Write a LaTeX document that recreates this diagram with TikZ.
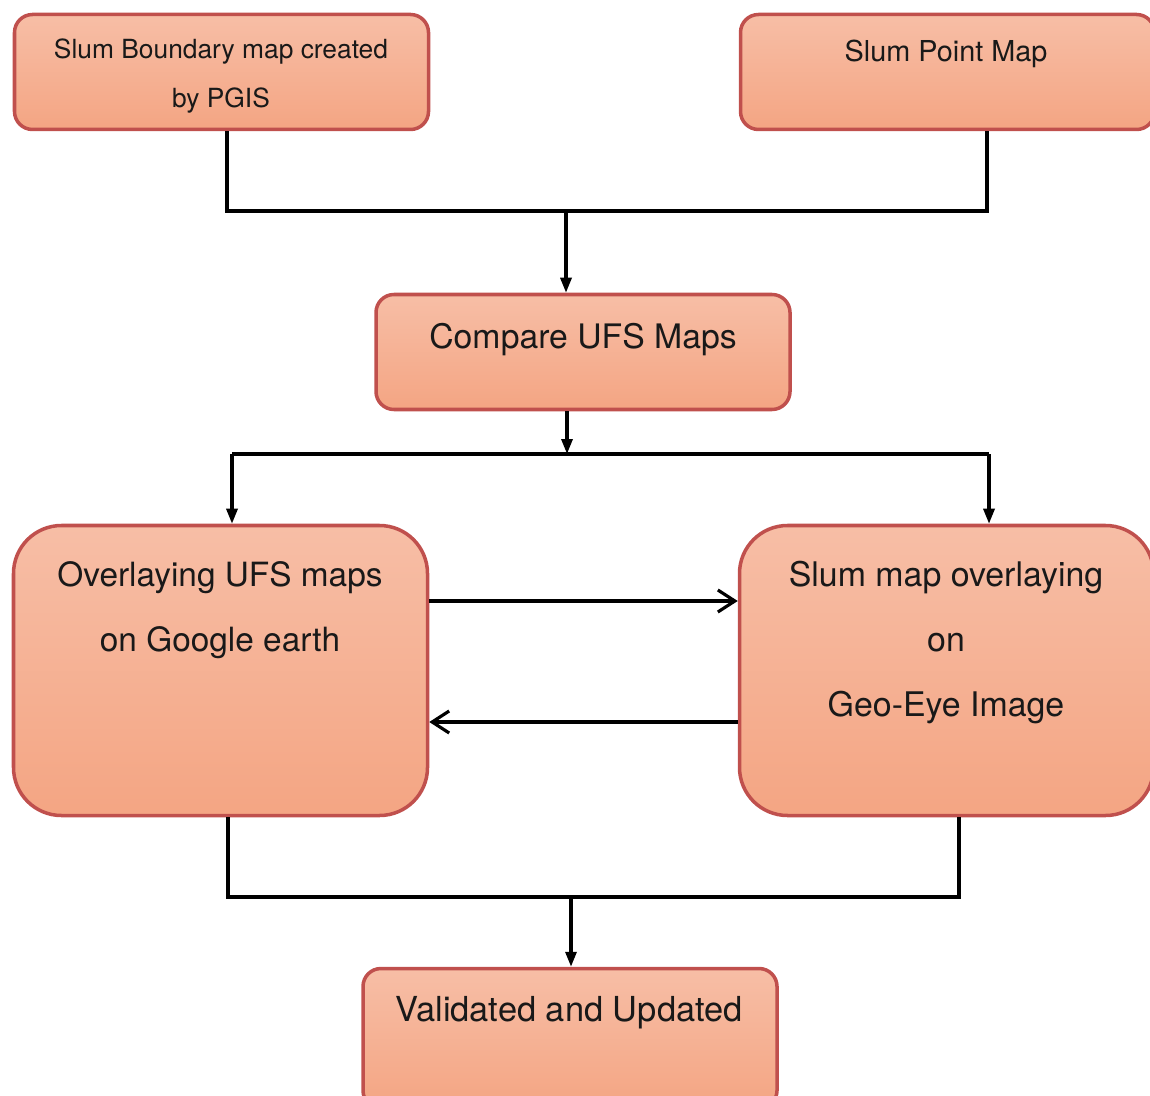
\documentclass[tikz,border=0pt]{standalone}
\usepackage{fontspec}
\setmainfont{TeX Gyre Heros}
\usetikzlibrary{arrows.meta,positioning}

\definecolor{stageedge}{HTML}{C0504D}
\definecolor{stagetop}{HTML}{F7BEA6}
\definecolor{stagebot}{HTML}{F4A583}

\begin{document}
\begin{tikzpicture}[
    stage/.style={rectangle, rounded corners=0.18cm, draw=stageedge, line width=1pt, top color=stagetop, bottom color=stagebot, minimum width=4.14cm, minimum height=1.15cm},
    bigstage/.style={stage, rounded corners=0.48cm, minimum height=2.90cm},
    caption/.style={align=center, text=black!90, inner sep=0pt},
    flow/.style={line width=0.9pt},
    feed/.style={flow, -{Triangle[length=0.15cm, width=0.11cm]}},
    swap/.style={flow, -{Straight Barb[length=0.17cm, width=0.22cm, line width=0.9pt]}}
]
    \useasboundingbox (0,0) rectangle (11.5,-10.95);

    % --- INPUT MAPS ---
    \node[stage] (bnd) at (2.215,-0.72) {};
    \node[caption, font=\fontsize{7.5}{13.7}\selectfont] (bndtxt) at (2.21,-0.76) {Slum Boundary map created\\by PGIS};
    \node[stage] (pnt) at (9.475,-0.72) {};
    \node[caption, font=\fontsize{8.2}{10}\selectfont] (pnttxt) at (9.46,-0.54) {Slum Point Map};

    % --- COMPARISON ---
    \node[stage] (cmp) at (5.83,-3.52) {};
    \node[caption, font=\fontsize{9.6}{12}\selectfont] (cmptxt) at (5.83,-3.40) {Compare UFS Maps};

    % --- OVERLAYS ---
    \node[bigstage] (ovl) at (2.205,-6.705) {};
    \node[caption, font=\fontsize{9.5}{18.5}\selectfont] (ovltxt) at (2.20,-6.105) {Overlaying UFS maps\\on Google earth};
    \node[bigstage] (geo) at (9.465,-6.705) {};
    \node[caption, font=\fontsize{9.65}{18.5}\selectfont] (geotxt) at (9.46,-6.43) {Slum map overlaying\\on\\Geo-Eye Image};

    % --- RESULT ---
    \node[stage, minimum height=1.4cm] (val) at (5.70,-10.385) {};
    \node[caption, font=\fontsize{9.8}{12}\selectfont] (valtxt) at (5.69,-10.13) {Validated and Updated};

    % --- CONNECTORS ---
    \coordinate (topjoin) at (5.66,-2.11);
    \draw[flow] ([xshift=0.055cm]bnd.south) |- ([xshift=0.395cm]pnt.south |- topjoin) -- ([xshift=0.395cm]pnt.south);
    \draw[feed] (topjoin) -- (topjoin |- cmp.north);

    \coordinate (midjoin) at (5.67,-4.54);
    \draw[feed] (cmp.south -| midjoin) -- (midjoin);
    \draw[flow] ([xshift=0.115cm]ovl.north |- midjoin) -- ([xshift=0.425cm]geo.north |- midjoin);
    \draw[feed] ([xshift=0.115cm]ovl.north |- midjoin) -- ([xshift=0.115cm]ovl.north);
    \draw[feed] ([xshift=0.425cm]geo.north |- midjoin) -- ([xshift=0.425cm]geo.north);

    \draw[swap] ([yshift=0.695cm]ovl.east) -- ([yshift=0.695cm]geo.west);
    \draw[swap] ([yshift=-0.515cm]geo.west) -- ([yshift=-0.515cm]ovl.east);

    \coordinate (lowjoin) at (5.71,-8.97);
    \draw[flow] ([xshift=0.075cm]ovl.south) |- ([xshift=0.125cm]geo.south |- lowjoin) -- ([xshift=0.125cm]geo.south);
    \draw[feed] (lowjoin) -- (lowjoin |- val.north);
\end{tikzpicture}
\end{document}
